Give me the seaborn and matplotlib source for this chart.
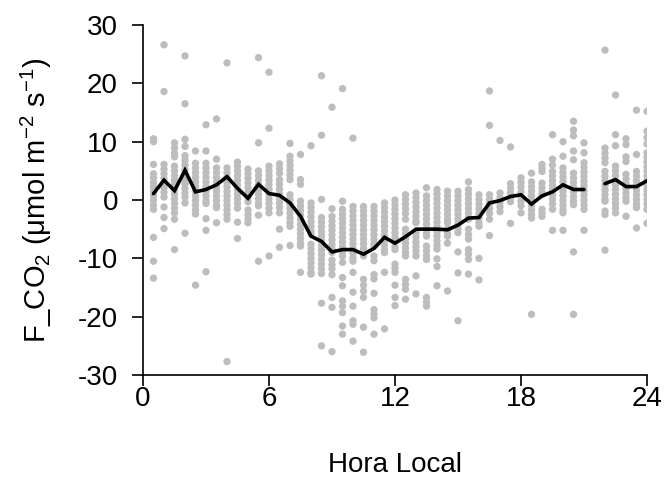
import numpy as np
import pandas as pd
import matplotlib
matplotlib.use("Agg")
import matplotlib.pyplot as plt
import seaborn as sns

# ---------------- data ----------------
scatter_hours = [0.5, 1.0, 1.5, 2.0, 2.5, 3.0, 3.5, 4.0, 4.5, 5.0, 5.5, 6.0,
                 6.5, 7.0, 7.5, 8.0, 8.5, 9.0, 9.5, 10.0, 10.5, 11.0, 11.5, 12.0,
                 12.5, 13.0, 13.5, 14.0, 14.5, 15.0, 15.5, 16.0, 16.5, 17.0, 17.5, 18.0,
                 18.5, 19.0, 19.5, 20.0, 20.5, 21.0, 22.0, 22.5, 23.0, 23.5, 24.0]

scatter_flux = [
    [10.5, 10, 6.1, 4.5, 3.8, 3, 2.3, 1.5, 0.8, 0, -0.8, -1.6, -6.4, -10.5, -13.4],
    [26.6, 18.6, 6.1, 5.3, 4.5, 3.7, 2.9, 2.1, 1.3, 0.5, -1.2, -3.0, -4.9],
    [9.8, 8.9, 8.0, 7.4, 5.8, 5, 4.2, 3.4, 2.6, 1.8, 1.0, 0.2, -0.6, -1.4, -2.2, -3.3, -8.5],
    [24.7, 16.5, 10.4, 9.2, 7.6, 6.8, 6.0, 5.2, 4.4, 3.6, 2.8, 2.0, 1.2, 0.5, -0.5, -5.7],
    [8.4, 6.3, 5.5, 4.7, 3.9, 3.1, 2.3, 1.5, 0.7, -0.1, -0.9, -1.7, -2.4, -14.6],
    [12.9, 8.4, 6.3, 5.5, 4.7, 3.9, 3.1, 2.3, 1.5, 0.7, -0.1, -0.6, -3.2, -5.2, -12.3],
    [13.9, 7.0, 5.5, 4.7, 3.9, 3.1, 2.3, 1.5, 0.7, -0.1, -0.9, -1.3, -3.9],
    [23.5, 5.5, 4.7, 3.9, 3.1, 2.3, 1.5, 0.7, -0.1, -0.9, -1.7, -2.5, -3.3, -27.7],
    [6.5, 5.8, 5.0, 4.2, 3.4, 2.6, 1.8, 1.0, 0.2, -0.6, -1.4, -3.8, -6.6],
    [5.3, 4.5, 3.7, 2.9, 2.1, 1.3, 0.5, -0.3, -1.7, -2.5, -3.3, -3.9],
    [24.4, 9.8, 5.0, 4.2, 3.4, 2.6, 1.8, 1.0, 0.2, -0.6, -1.0, -2.6, -10.5],
    [21.9, 12.3, 5.8, 5.0, 4.2, 3.4, 2.6, 1.8, 1.0, 0.2, -0.6, -1.4, -2.2, -9.6],
    [6.2, 5.4, 4.6, 3.5, 2.7, 1.9, 1.1, 0.3, -0.5, -1.3, -2.2, -5.0, -8.1],
    [9.7, 7.5, 6.7, 5.9, 5.1, 4.3, 3.5, 0.9, 0.1, -0.7, -1.5, -2.3, -3.1, -3.9, -4.5, -7.8],
    [7.8, 3.5, 2.7, -0.2, -1.0, -1.8, -2.6, -3.4, -4.2, -5.0, -5.8, -6.6, -7.4, -7.9, -12.4],
    [9.3, -0.5, -1.3, -2.1, -2.9, -3.7, -4.5, -5.3, -5.8, -7.6, -8.4, -9.2, -10.0, -10.8, -11.6, -12.4, -12.7],
    [21.3, 11.1, 0.1, -3.0, -3.8, -4.6, -5.4, -6.2, -7.0, -7.8, -8.6, -9.4, -10.2, -11.0, -11.8, -12.6, -17.7, -25.0],
    [15.9, -1.5, -2.8, -3.6, -4.4, -5.2, -6.0, -6.8, -7.6, -8.4, -9.0, -10.3, -11.1, -11.8, -12.8, -16.7, -18.4, -26.0],
    [19.1, -0.2, -1.6, -2.4, -3.2, -4.0, -4.8, -5.6, -6.4, -7.2, -8.0, -8.8, -9.6, -10.7, -13.3, -14.7, -17.3, -18.2, -19.3, -21.6, -23.0],
    [10.6, -1.1, -1.9, -2.7, -3.5, -4.3, -5.1, -5.9, -6.7, -7.5, -8.3, -9.1, -9.9, -10.5, -12.4, -15.8, -18.2, -20.7, -21.3, -24.2],
    [-1.1, -1.9, -2.7, -3.5, -4.3, -5.1, -5.9, -6.7, -7.5, -8.3, -9.0, -9.6, -13.6, -14.6, -15.6, -16.7, -21.8, -26.1],
    [-1.1, -1.9, -2.7, -3.5, -4.3, -5.1, -5.9, -6.7, -7.5, -7.9, -9.6, -10.4, -12.8, -13.5, -16.0, -18.8, -19.6, -20.2, -23.0],
    [-0.5, -1.3, -2.1, -2.9, -3.7, -4.5, -5.3, -6.1, -6.9, -7.7, -8.5, -9.0, -12.4, -22.1],
    [0.0, -0.8, -1.6, -2.4, -3.2, -4.0, -4.8, -5.6, -6.4, -7.2, -8.0, -8.5, -11.0, -11.7, -12.4, -14.6, -16.7, -18.1],
    [0.9, 0.1, -0.7, -1.5, -2.3, -3.3, -5.0, -5.8, -6.6, -7.4, -8.2, -9.0, -9.6, -13.6, -14.5, -15.3, -17.0],
    [1.2, 0.4, -0.4, -1.2, -2.0, -2.8, -3.6, -3.9, -5.6, -6.4, -7.2, -8.0, -8.8, -9.6, -13.0, -16.1],
    [2.1, 0.7, -0.1, -0.9, -1.7, -2.5, -3.3, -4.1, -4.9, -5.7, -6.2, -7.9, -8.7, -9.5, -10.2, -16.7, -17.5, -18.2],
    [1.8, 1.0, 0.2, -0.6, -1.4, -2.2, -3.0, -3.8, -4.6, -5.4, -6.2, -7.0, -7.8, -8.4, -10.1, -11.4, -14.7],
    [1.5, 0.7, -0.1, -0.9, -1.7, -2.5, -3.3, -3.9, -5.0, -5.6, -6.2, -7.4, -15.6],
    [1.5, 0.7, -0.1, -0.9, -1.7, -2.5, -3.3, -4.1, -4.9, -5.6, -8.9, -12.5, -20.7],
    [3.1, 1.8, 1.0, 0.2, -0.6, -1.4, -2.2, -3.0, -3.3, -5.0, -5.9, -6.7, -8.5, -9.3, -10.2, -12.7],
    [0.9, 0.1, -0.7, -1.5, -2.3, -3.1, -3.9, -4.5, -10.0, -13.7],
    [18.7, 12.8, 0.9, 0.1, -0.7, -1.5, -2.3, -3.3, -6.1],
    [10.2, 1.2, 0.4, -0.4, -1.2, -2.0],
    [9.1, 2.8, 2.0, 1.2, 0.4, -0.3, -4.0],
    [3.8, 3.0, 2.2, 1.4, 0.6, -0.2, -1.0, -2.2],
    [4.6, 3.1, 2.3, 1.5, 0.7, -0.1, -0.9, -1.7, -2.5, -3.1, -19.6],
    [6.1, 5.5, 4.9, 2.9, 2.1, 1.3, 0.9, -1.6, -2.2, -2.8],
    [11.2, 7.0, 6.0, 4.9, 4.1, 3.3, 2.5, 1.7, 0.9, 0.1, -0.7, -1.6, -5.2],
    [10.0, 7.5, 5.5, 4.7, 3.9, 3.1, 2.3, 1.5, 0.7, -0.1, -0.9, -1.7, -2.2, -5.2],
    [13.5, 12.0, 11.0, 8.4, 6.9, 4.6, 3.8, 3.0, 2.2, 1.4, 0.6, -0.2, -0.8, -8.9, -19.6],
    [9.8, 8.1, 6.4, 5.6, 4.8, 4.0, 3.2, 2.4, 1.6, 0.8, 0.0, -0.8, -1.6, -5.2],
    [25.7, 8.9, 8.0, 7.2, 6.4, 4.9, 4.1, 3.3, 2.5, 1.7, 0.9, 0.1, -0.2, -1.9, -2.5, -8.6],
    [18.0, 11.2, 9.3, 5.8, 5.0, 4.2, 3.4, 2.6, 1.8, 1.0, 0.2, -0.6, -1.4, -2.2],
    [10.5, 9.5, 7.4, 6.6, 4.4, 3.6, 2.8, 2.0, 1.2, 0.4, -0.2, -2.8],
    [15.4, 7.8, 4.9, 4.1, 3.3, 2.5, 1.7, 0.9, 0.1, -0.7, -1.3, -4.8],
    [15.2, 11.8, 10.7, 9.6, 8.1, 7.3, 6.5, 5.7, 4.9, 4.1, 3.3, 2.5, 1.7, 0.9, 0.1, -0.7, -1.6, -4.0],
]

mean_hours = [0.5, 1.0, 1.5, 2.0, 2.5, 3.0, 3.5, 4.0, 4.5, 5.0, 5.5, 6.0,
              6.5, 7.0, 7.5, 8.0, 8.5, 9.0, 9.5, 10.0, 10.5, 11.0, 11.5, 12.0,
              12.5, 13.0, 13.5, 14.0, 14.5, 15.0, 15.5, 16.0, 16.5, 17.0, 17.5, 18.0,
              18.5, 19.0, 19.5, 20.0, 20.5, 21.0, 22.0, 22.5, 23.0, 23.5, 24.0]
mean_flux = [1.1, 3.4, 1.6, 5.1, 1.4, 1.8, 2.6, 4.0, 2.0, 0.3, 2.7, 1.1,
             0.8, -0.5, -2.8, -6.2, -7.1, -8.9, -8.5, -8.5, -9.3, -8.3, -6.4, -7.4,
             -6.3, -5.0, -5.0, -5.0, -5.1, -4.3, -3.1, -3.0, -0.5, -0.1, 0.6, 0.9,
             -0.7, 0.7, 1.4, 2.6, 1.8, 1.8, 2.8, 3.5, 2.3, 2.3, 3.3]
# the mean line is broken where 21.5 h is missing
mean_segment = [0] * 42 + [1] * 5

x_ticks = [0, 6, 12, 18, 24]
y_ticks = [-30, -20, -10, 0, 10, 20, 30]

# ---------------- tables ----------------
pts = pd.DataFrame({
    "hora": [h for h, vals in zip(scatter_hours, scatter_flux) for _ in vals],
    "flux": [v for vals in scatter_flux for v in vals],
})
means = pd.DataFrame({"hora": mean_hours, "flux": mean_flux, "seg": mean_segment})

# ---------------- style ----------------
sns.set_theme(style="ticks")
plt.rcParams["font.family"] = ["Liberation Sans", "DejaVu Sans"]
plt.rcParams["mathtext.fontset"] = "custom"
plt.rcParams["mathtext.rm"] = "Liberation Sans"
plt.rcParams["mathtext.it"] = "Liberation Sans:italic"
plt.rcParams["mathtext.default"] = "regular"

fig = plt.figure(figsize=(6.64, 4.83), dpi=100)
ax = fig.add_axes([143 / 664, 1 - 375 / 483, (647 - 143) / 664, (375 - 25) / 483])

sns.scatterplot(data=pts, x="hora", y="flux", ax=ax, color="#bdbdbd",
                s=28, linewidth=0, edgecolor="none", zorder=2, legend=False)
sns.lineplot(data=means, x="hora", y="flux", units="seg", estimator=None,
             ax=ax, color="black", zorder=3, legend=False)
for ln in ax.get_lines():
    ln.set_linewidth(2.6)
    ln.set_solid_joinstyle("miter")

ax.set_xlim(0, 24)
ax.set_ylim(-30, 30)
ax.set_xticks(x_ticks)
ax.set_yticks(y_ticks)
ax.set_xticklabels([str(t) for t in x_ticks])
ax.set_yticklabels([str(t) for t in y_ticks])
ax.tick_params(axis="both", direction="out", length=8, width=1.2, color="black",
               labelsize=20, labelcolor="black")
ax.tick_params(axis="y", pad=10)
ax.tick_params(axis="x", pad=0)
for side in ["top", "right"]:
    ax.spines[side].set_visible(False)
for side in ["left", "bottom"]:
    ax.spines[side].set_color("black")
    ax.spines[side].set_linewidth(1.2)

ax.set_xlabel("Hora Local", fontsize=20, color="black", labelpad=29)
ax.set_ylabel(r"F_CO$_2$ ($\mu$mol m$^{-2}$ s$^{-1}$)", fontsize=21,
              color="black", labelpad=17)
ax.grid(False)

fig.savefig("out.png", dpi=100)
